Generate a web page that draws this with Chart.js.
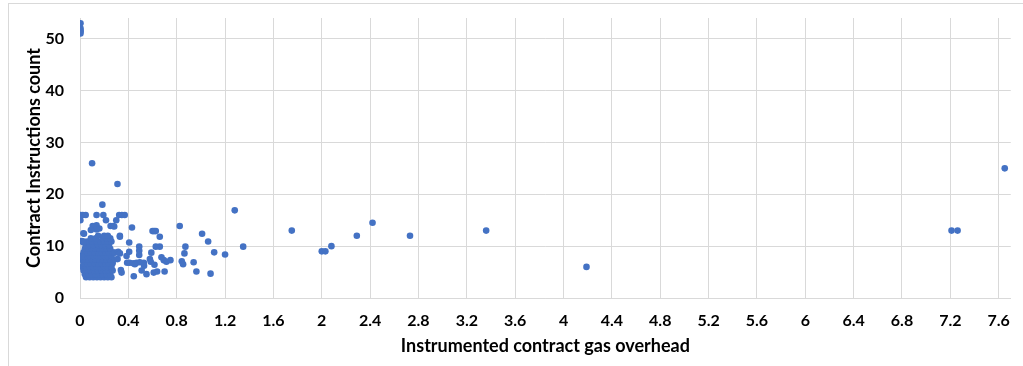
<!DOCTYPE html>
<html>
<head>
<meta charset="utf-8">
<script src="https://cdn.jsdelivr.net/npm/chart.js@4/dist/chart.umd.min.js"></script>
<style>
  html, body { margin: 0; padding: 0; background: #fff; }
  #wrap { position: relative; width: 1023px; height: 366px; overflow: hidden; }
  #frame { position: absolute; left: 8px; top: 3px; width: 1100px; height: 400px;
           border-left: 1px solid #d9d9d9; border-top: 1px solid #d9d9d9; pointer-events: none; }
  canvas { position: absolute; left: 0; top: 0; }
</style>
</head>
<body>
<div id="wrap">
  <canvas id="chart" width="1023" height="366"></canvas>
  <div id="frame"></div>
</div>
<script>
// --- data: [gas overhead, instruction count] ---
const topOutliers = [[0.004, 53], [0.004, 52], [0.006, 51.5], [0.004, 51]];

// dense block near the origin
const coreCluster = [
  [0.05, 4], [0.08, 4], [0.11, 4], [0.14, 4], [0.17, 4], [0.2, 4], [0.23, 4], [0.26, 4],
  [0.04, 4.6], [0.07, 4.6], [0.1, 4.6], [0.13, 4.6], [0.16, 4.6], [0.19, 4.6], [0.22, 4.6], [0.25, 4.6],
  [0.03, 5.3], [0.06, 5.3], [0.09, 5.3], [0.12, 5.3], [0.15, 5.3], [0.18, 5.3], [0.21, 5.3], [0.24, 5.3], [0.27, 5.3],
  [0.02, 6], [0.05, 6], [0.08, 6], [0.11, 6], [0.14, 6], [0.17, 6], [0.2, 6], [0.23, 6], [0.26, 6],
  [0.03, 6.7], [0.06, 6.7], [0.09, 6.7], [0.12, 6.7], [0.15, 6.7], [0.18, 6.7], [0.21, 6.7], [0.24, 6.7], [0.27, 6.7],
  [0.01, 7.4], [0.04, 7.4], [0.07, 7.4], [0.1, 7.4], [0.13, 7.4], [0.16, 7.4], [0.19, 7.4], [0.22, 7.4], [0.25, 7.4], [0.28, 7.4],
  [0.01, 8.1], [0.05, 8.1], [0.08, 8.1], [0.11, 8.1], [0.14, 8.1], [0.17, 8.1], [0.2, 8.1], [0.23, 8.1], [0.26, 8.1],
  [0.03, 8.8], [0.06, 8.8], [0.09, 8.8], [0.12, 8.8], [0.15, 8.8], [0.18, 8.8], [0.21, 8.8], [0.24, 8.8], [0.27, 8.8],
  [0.04, 9.5], [0.07, 9.5], [0.1, 9.5], [0.13, 9.5], [0.16, 9.5], [0.19, 9.5], [0.22, 9.5], [0.25, 9.5],
  [0.05, 10.2], [0.08, 10.2], [0.11, 10.2], [0.15, 10.2], [0.18, 10.2], [0.21, 10.2], [0.24, 10.2],
  [0.03, 10.9], [0.06, 10.9], [0.1, 10.9], [0.14, 10.9], [0.17, 10.9], [0.2, 10.9], [0.23, 10.9], [0.26, 10.9],
  [0.09, 11.5], [0.13, 11.5], [0.19, 11.5], [0.22, 11.5], [0.25, 11.5],
  [0.15, 12], [0.2, 12], [0.23, 12]
];

// scattered points up to x = 1.4
const nearSpread = [
  [0.1, 26], [0.31, 22], [0.185, 18],
  [0.003, 16], [0.022, 16], [0.047, 16], [0.137, 16], [0.193, 16], [0.324, 16], [0.346, 16], [0.37, 16],
  [0.003, 15], [0.215, 15], [0.3, 15],
  [0.137, 14], [0.105, 13.9], [0.253, 13.9], [0.275, 13.9], [0.283, 13.8], [0.16, 13.4], [0.137, 13.2],
  [0.09, 13.1], [0.033, 12.4], [0.028, 12.5], [0.33, 12], [0.33, 11.8], [0.43, 13.6],
  [0.014, 11], [0.028, 10.7], [0.407, 10.7], [0.003, 7.9], [0.014, 8],
  [0.289, 8.75], [0.316, 8.9], [0.33, 8.6], [0.407, 8.9], [0.311, 7.5], [0.385, 8.1],
  [0.39, 6.8], [0.41, 6.8], [0.44, 6.7], [0.467, 6.8], [0.495, 6.9], [0.528, 6.8], [0.454, 6.5],
  [0.338, 5.4], [0.344, 4.9], [0.445, 4.2],
  [0.49, 9.9], [0.49, 9.1], [0.49, 8.3], [0.51, 5.3], [0.55, 4.6], [0.53, 6.2],
  [0.6, 12.9], [0.613, 12.9], [0.627, 12.9], [0.66, 11.8], [0.66, 9.9], [0.627, 9.9], [0.59, 8.75],
  [0.578, 7.5], [0.585, 7], [0.616, 6.4], [0.638, 5.1], [0.61, 4.9], [0.7, 5.1],
  [0.674, 7.85], [0.693, 7.3], [0.715, 7], [0.748, 7.3],
  [0.825, 13.9], [0.872, 9.9], [0.864, 8.6], [0.842, 7.1], [0.853, 6.5], [0.94, 6.9], [0.963, 5.1],
  [1.01, 12.4], [1.06, 10.9], [1.08, 4.7], [1.11, 8.8], [1.2, 8.4], [1.28, 16.9], [1.35, 9.9]
];

const farSpread = [
  [1.752, 13], [2.0, 9], [2.03, 9], [2.08, 10], [2.29, 12], [2.42, 14.5], [2.73, 12], [3.36, 13],
  [4.19, 6], [7.21, 13], [7.26, 13], [7.65, 25]
];

const xTitle = "Instrumented contract gas overhead";
const yTitle = "Contract Instructions count";

const toXY = (p) => ({ x: p[0], y: p[1] });
const allPoints = [...topOutliers, ...coreCluster, ...nearSpread, ...farSpread].map(toXY);

const fontFam = "Lato, 'Open Sans', sans-serif";
const textCol = "#000000";
const gridCol = "#d9d9d9";

new Chart(document.getElementById("chart").getContext("2d"), {
  type: "scatter",
  data: {
    datasets: [{
      data: allPoints,
      backgroundColor: "#4472C4",
      borderWidth: 0,
      pointRadius: 3.3,
      pointHoverRadius: 3.3
    }]
  },
  options: {
    responsive: false,
    animation: false,
    events: [],
    layout: { padding: { top: 18, right: 10, left: 0, bottom: 0 } },
    plugins: { legend: { display: false }, tooltip: { enabled: false } },
    scales: {
      x: {
        type: "linear",
        min: 0, max: 7.7,
        grid: { color: gridCol, drawTicks: false },
        border: { color: gridCol },
        ticks: {
          stepSize: 0.4, includeBounds: false, padding: 13,
          color: textCol, font: { family: fontFam, size: 16, weight: "bold" },
          callback: (v) => String(Math.round(v * 10) / 10)
        },
        title: {
          display: true, text: xTitle, color: textCol, padding: { top: 4, bottom: 9 },
          font: { family: fontFam, size: 18, weight: "bold" }
        },
        afterFit: (s) => { s.height = 68; }
      },
      y: {
        type: "linear",
        min: 0, max: 54,
        grid: { color: gridCol, drawTicks: false },
        border: { color: gridCol },
        ticks: {
          stepSize: 10, includeBounds: false, padding: 16,
          color: textCol, font: { family: fontFam, size: 16, weight: "bold" }
        },
        title: {
          display: true, text: yTitle, color: textCol, padding: { top: 23, bottom: 0 },
          font: { family: fontFam, size: 18, weight: "bold" }
        },
        afterFit: (s) => { s.width = 80; s.paddingTop = 0; s.paddingBottom = 0; }
      }
    }
  }
});
</script>
</body>
</html>
